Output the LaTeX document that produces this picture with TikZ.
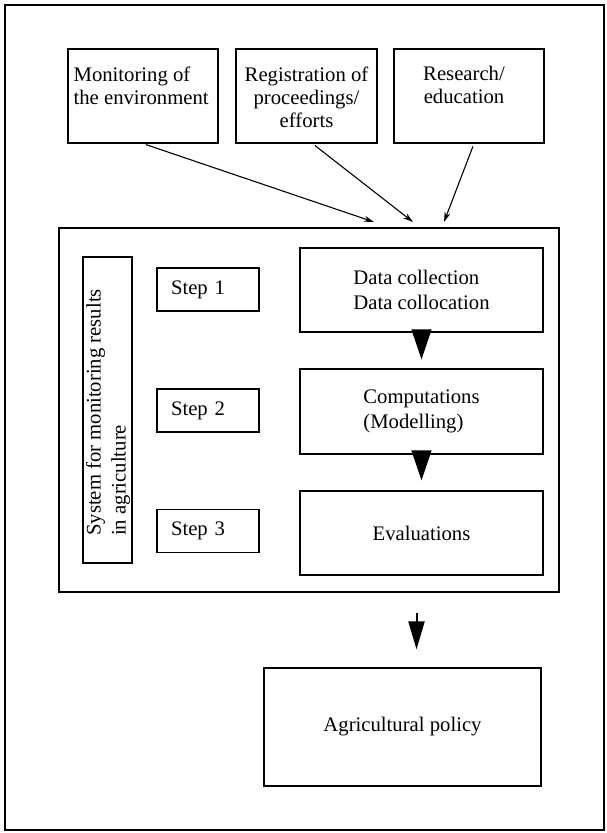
\documentclass[tikz,border=0pt]{standalone}
\usepackage{fontspec}
\setmainfont{Liberation Serif}
\usetikzlibrary{arrows.meta,positioning}

\begin{document}
\begin{tikzpicture}[x=1pt,y=-1pt]
  \tikzstyle{every node}=[font=\fontsize{20.7}{25}\selectfont]
  \tikzstyle{box}=[draw,line width=1.2pt,inner sep=0pt]
  \tikzstyle{topbox}=[box,minimum height=94pt]
  \tikzstyle{toptext}=[inner sep=0pt,font=\fontsize{20.7}{23}\selectfont]
  \tikzstyle{stepbox}=[box,minimum height=43pt,text width=74pt,inner xsep=14pt,align=left]
  \tikzstyle{workbox}=[box,minimum width=243pt,minimum height=84pt,align=left]
  \tikzstyle{inarrow}=[line width=1.1pt,-{Stealth[length=10pt,width=6pt]},shorten <=3pt]
  \tikzstyle{bigarrow}=[line width=1.2pt,-{Triangle[length=30pt,width=20pt]}]

  \useasboundingbox (0,0) rectangle (607,833);
  \draw[line width=1.5pt] (5,5) rectangle (604,830);

  % sources
  \node[topbox,minimum width=150pt] (env) at (143,96) {};
  \node[topbox,minimum width=141pt] (reg) at (306.5,96) {};
  \node[topbox,minimum width=150pt] (res) at (469,96) {};
  \node[toptext,anchor=north west,align=left,xshift=6pt,yshift=-18pt] (envtxt) at (env.north west) {Monitoring of\\the environment};
  \node[toptext,anchor=north,align=center,yshift=-18pt] (regtxt) at (reg.north) {Registration of\\proceedings/\\efforts};
  \node[toptext,anchor=north,align=center,xshift=-5pt,yshift=-18pt] (restxt) at (res.north) {Research/\\education};

  % monitoring system
  \node[draw,line width=2.5pt,inner sep=0pt,minimum width=500pt,minimum height=364pt] (sys) at (309,410) {};
  \coordinate (in1) at (374,222);
  \coordinate (in2) at (413,222);
  \coordinate (in3) at (444,222);
  \draw[inarrow] (env.south) -- (in1);
  \draw[inarrow] ([xshift=6pt]reg.south) -- (in2);
  \draw[inarrow] ([xshift=5pt]res.south) -- (in3);

  \node[box,minimum width=49pt,minimum height=306pt] (sysbox) at (107.5,410) {};
  \node[rotate=90,anchor=west,align=left,inner sep=0pt] (systxt) at (108,536) {System for monitoring results\\in agriculture};

  \node[stepbox] (step1) at (208,289.5) {Step 1};
  \node[stepbox] (step2) at (208,410.5) {Step 2};
  \node[stepbox] (step3) at (208,531) {Step 3};

  \node[workbox] (dc) at (421.5,290) {Data collection\\Data collocation};
  \node[workbox,minimum height=85pt] (comp) at (421.5,411.5) {Computations\\(Modelling)};
  \node[workbox] (eval) at (421.5,533) {Evaluations};

  \draw[bigarrow,shorten >=9pt] (dc.south) -- (comp.north);
  \draw[bigarrow,shorten >=10pt] (comp.south) -- (eval.north);

  % result
  \node[box,minimum width=277pt,minimum height=118pt] (policy) at (402.5,727) {Agricultural policy};
  \coordinate[xshift=-5pt] (outtop) at (sys.south -| eval.south);
  \coordinate[xshift=-5pt] (outend) at (policy.north -| eval.south);
  \draw[line width=2pt,-{Triangle[length=28pt,width=16pt]},shorten <=20pt,shorten >=18pt]
    (outtop) -- (outend);
\end{tikzpicture}
\end{document}
